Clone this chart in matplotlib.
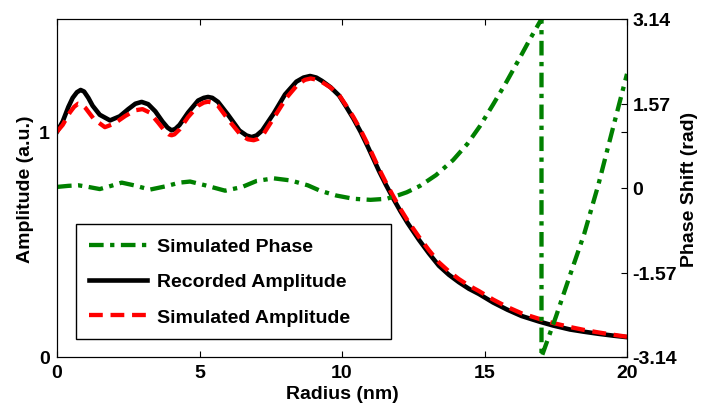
#!/usr/bin/env python3
"""Recorded vs simulated amplitude and simulated phase shift along the radius."""

import matplotlib
matplotlib.use("Agg")
import matplotlib.pyplot as plt

# recorded amplitude (left axis)
rec_radius = [0.0, 0.2, 0.4, 0.55, 0.7, 0.83, 0.95, 1.1, 1.25, 1.5, 1.86, 2.2,
              2.5, 2.75, 2.97, 3.2, 3.45, 3.7, 3.88, 4.02, 4.15, 4.3, 4.6,
              4.95, 5.15, 5.3, 5.45, 5.65, 6.0, 6.4, 6.65, 6.83, 7.0, 7.2,
              7.6, 8.0, 8.4, 8.65, 8.88, 9.1, 9.3, 9.6, 9.9, 10.15, 10.4,
              10.65, 10.9, 11.1, 11.3, 11.55, 11.8, 12.05, 12.3, 12.7, 13.05,
              13.4, 13.75, 14.1, 14.45, 14.8, 15.3, 15.8, 16.3, 16.9, 17.4,
              18.0, 18.5, 19.0, 19.5, 20.0]
recorded_amp = [1.000, 1.045, 1.110, 1.150, 1.175, 1.185, 1.178, 1.150, 1.115,
                1.075, 1.050, 1.068, 1.100, 1.124, 1.132, 1.122, 1.090, 1.045,
                1.018, 1.006, 1.012, 1.030, 1.085, 1.138, 1.150, 1.154, 1.150,
                1.132, 1.075, 1.005, 0.983, 0.976, 0.983, 1.005, 1.080, 1.165,
                1.222, 1.240, 1.247, 1.240, 1.225, 1.197, 1.160, 1.110, 1.058,
                1.000, 0.935, 0.880, 0.825, 0.762, 0.703, 0.647, 0.595, 0.520,
                0.460, 0.405, 0.365, 0.332, 0.303, 0.280, 0.242, 0.210, 0.182,
                0.158, 0.140, 0.122, 0.112, 0.103, 0.095, 0.088]

# simulated amplitude (left axis)
sim_radius = [0.0, 0.2, 0.45, 0.6, 0.74, 0.87, 1.0, 1.3, 1.68, 2.0, 2.4, 2.75,
              3.0, 3.25, 3.55, 3.8, 3.92, 4.02, 4.12, 4.3, 4.6, 4.95, 5.15,
              5.3, 5.45, 5.65, 6.0, 6.45, 6.7, 6.9, 7.05, 7.25, 7.65, 8.05,
              8.45, 8.7, 8.9, 9.1, 9.3, 9.6, 9.9, 10.15, 10.4, 10.65, 10.9,
              11.1, 11.3, 11.55, 11.8, 12.05, 12.3, 12.7, 13.05, 13.4, 13.75,
              14.1, 14.45, 14.8, 15.3, 15.8, 16.3, 16.9, 17.4, 18.0, 18.5,
              19.0, 19.5, 20.0]
simulated_amp = [1.000, 1.030, 1.085, 1.110, 1.124, 1.120, 1.105, 1.055, 1.020,
                 1.035, 1.070, 1.095, 1.100, 1.085, 1.040, 1.000, 0.988, 0.984,
                 0.988, 1.010, 1.065, 1.115, 1.129, 1.133, 1.129, 1.115, 1.055,
                 0.985, 0.966, 0.962, 0.968, 0.990, 1.070, 1.150, 1.210, 1.230,
                 1.236, 1.231, 1.220, 1.196, 1.162, 1.115, 1.065, 1.008, 0.945,
                 0.890, 0.835, 0.772, 0.713, 0.657, 0.606, 0.533, 0.474, 0.420,
                 0.380, 0.346, 0.317, 0.293, 0.255, 0.222, 0.194, 0.170, 0.151,
                 0.133, 0.120, 0.109, 0.099, 0.090]

# simulated phase (right axis), wraps at r = 17 nm
phase_radius = [0, 0.4, 0.75, 1.1, 1.5, 1.9, 2.27, 2.7, 3.26, 3.8, 4.3, 4.67,
                5.2, 5.9, 6.5, 7.0, 7.6, 8.2, 8.8, 9.23, 9.8, 10.4, 11.0,
                11.57, 12.0, 12.27, 12.74, 13.3, 13.9, 14.4, 14.84, 15.3,
                15.78, 16.2, 16.6, 17.0, 17.0, 17.5, 18.0, 18.5, 19.0, 19.5,
                20.0]
phase = [0.02, 0.04, 0.05, 0.02, -0.02, 0.04, 0.10, 0.05, -0.03, 0.03, 0.10,
         0.12, 0.05, -0.05, 0.02, 0.13, 0.18, 0.14, 0.05, -0.05, -0.14, -0.20,
         -0.22, -0.20, -0.13, -0.08, 0.04, 0.24, 0.52, 0.82, 1.15, 1.55, 1.98,
         2.38, 2.77, 3.14, -3.14, -2.40, -1.62, -0.85, 0.07, 1.10, 2.12]

x_ticks = [0, 5, 10, 15, 20]
amp_ticks = [0, 1]
phase_ticks = [-3.14, -1.57, 0, 1.57, 3.14]
phase_ticklabels = ["-3.14", "-1.57", "0", "1.57", "3.14"]

plt.rcParams["font.family"] = ["Liberation Sans", "DejaVu Sans"]
plt.rcParams["font.weight"] = "bold"
plt.rcParams["font.size"] = 14

fig, ax1 = plt.subplots(figsize=(7.06, 4.10), dpi=100)
fig.subplots_adjust(left=57 / 706, right=627 / 706, bottom=1 - 358 / 410, top=1 - 20 / 410)
ax2 = ax1.twinx()

rec, = ax1.plot(rec_radius, recorded_amp, color="k", linewidth=3.3,
                solid_joinstyle="round", label="Recorded Amplitude")
sim, = ax1.plot(sim_radius, simulated_amp, color="#ff0000", linewidth=3.1,
                dashes=(3.2, 1.8), label="Simulated Amplitude")
ph, = ax2.plot(phase_radius, phase, color="#008000", linewidth=3.1,
               dashes=(3.4, 1.5, 1.0, 1.5), label="Simulated Phase")

ax1.set_xlim(0, 20)
ax1.set_ylim(0, 1.5)
ax2.set_ylim(-3.14, 3.14)
ax1.set_xticks(x_ticks)
ax1.set_yticks(amp_ticks)
ax2.set_yticks(phase_ticks)
ax2.set_yticklabels(phase_ticklabels)

ax1.tick_params(axis="x", direction="in", top=True, length=4, pad=5)
ax1.tick_params(axis="y", direction="in", left=False, right=True, length=4, pad=5)
ax2.tick_params(axis="y", direction="in", length=4, pad=4)

ax1.set_xlabel("Radius (nm)", fontweight="bold", labelpad=3)
ax1.set_ylabel("Amplitude (a.u.)", fontweight="bold", labelpad=4)
ax2.set_ylabel("Phase Shift (rad)", fontweight="bold", labelpad=3)

leg = ax2.legend(handles=[ph, rec, sim], loc="upper left", mode="expand",
                 bbox_to_anchor=(0.033, 0.0, 0.5526, 0.393),
                 borderaxespad=0, fancybox=False, framealpha=1, edgecolor="k",
                 fontsize=14, handlelength=2.95, handletextpad=0.5,
                 labelspacing=0.9, borderpad=0.7)
leg.get_frame().set_linewidth(1.0)

plt.savefig("out.png", dpi=100)
